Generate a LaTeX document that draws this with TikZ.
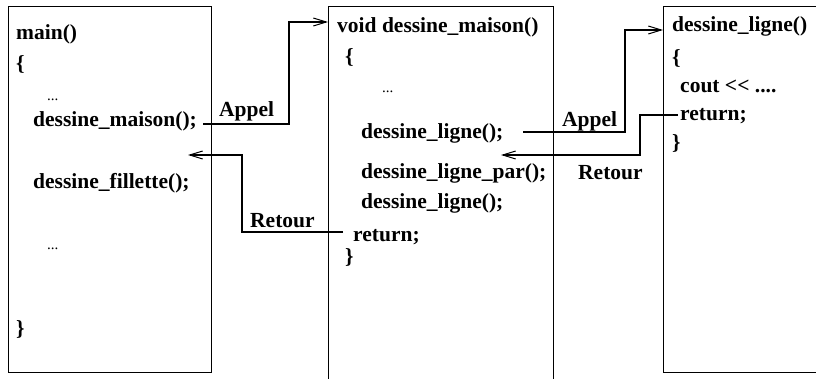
\documentclass[tikz,border=0pt]{standalone}
\usepackage{fontspec}
\setmainfont{Liberation Serif}
\usetikzlibrary{arrows.meta}
\begin{document}
\begin{tikzpicture}[x=1pt,y=-1pt,
  code/.style={anchor=base west,inner sep=0pt,yshift=-4pt,font=\fontsize{21.5}{25}\selectfont\bfseries},
  dots/.style={anchor=base west,inner sep=0pt,yshift=-3pt,font=\fontsize{15}{18}\selectfont},
  box/.style={draw,line width=1.4pt,inner sep=0pt,anchor=north west},
  conn/.style={line width=1.2pt,-{Straight Barb[length=13pt,width=8pt,line width=1pt]}},
  plain/.style={line width=1.2pt}]
\useasboundingbox (0,0) rectangle (816,379);
\clip (0,0) rectangle (816,379);
\fill[white] (0,0) rectangle (816,379);
% boxes
\node[box,minimum width=203pt,minimum height=366pt] (lbox) at (8,6) {};
\node[box,minimum width=225pt,minimum height=400pt] (mbox) at (328,6) {};
\node[box,minimum width=180pt,minimum height=366pt] (rbox) at (663,6) {};
% left box text
\node[code] (lmain) at (16,36) {main()};
\node[code] (lob) at (16,67) {\{};
\node[dots] (ld1) at (47,98) {...};
\node[code] (lm) at (33,123) {dessine\_maison();};
\node[code] (lf) at (33,185) {dessine\_fillette();};
\node[dots] (ld2) at (47,247) {...};
\node[code] (lcb) at (16,331) {\}};
% middle box text
\node[code] (mtitle) at (337,29) {void dessine\_maison()};
\node[code] (mob) at (345,60) {\{};
\node[dots] (md) at (382,90) {...};
\node[code] (ml1) at (361,135) {dessine\_ligne();};
\node[code] (mlp) at (361,175) {dessine\_ligne\_par();};
\node[code] (ml2) at (361,205) {dessine\_ligne();};
\node[code] (mret) at (353,238) {return;};
\node[code] (mcb) at (345,260) {\}};
% right box text
\node[code] (rtitle) at (672,28) {dessine\_ligne()};
\node[code] (rob) at (672,61) {\{};
\node[code] (rcout) at (680,89) {cout {<}{<} ....};
\node[code] (rret) at (680,117) {return;};
\node[code] (rcb) at (672,146) {\}};
% labels
\node[code] (ap1) at (219,113) {Appel};
\node[code] (rt1) at (250,224) {Retour};
\node[code] (ap2) at (562,123) {Appel};
\node[code] (rt2) at (578,176) {Retour};
% connector points
\coordinate (a1s) at (203,124);
\coordinate (a1c) at (289,22);
\coordinate (r1s) at (343,232);
\coordinate (r1c) at (242,155);
\coordinate (r1e) at (188,155);
\coordinate (a2s) at (523,132);
\coordinate (a2c) at (625,30);
\coordinate (r2s) at (678,115);
\coordinate (r2c) at (640,155);
\coordinate (r2e) at (501,155);
% connectors
\draw[conn] (a1s) -| (a1c) -- (a1c -| mbox.west);
\draw[conn] (r1s) -| (r1c) -- (r1e);
\draw[conn] (a2s) -| (a2c) -- (a2c -| rbox.west);
\draw[conn] (r2s) -| (r2c) -- (r2e);
\end{tikzpicture}
\end{document}
